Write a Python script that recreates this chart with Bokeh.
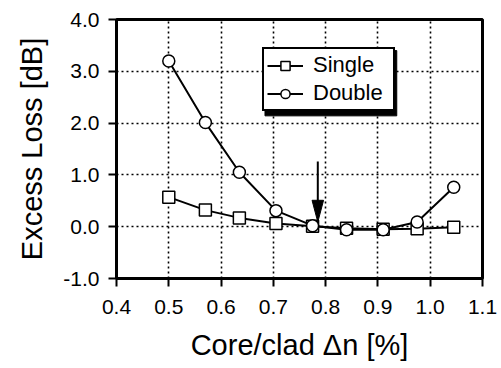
from bokeh.plotting import figure
from bokeh.models import (Legend, LegendItem, BoxAnnotation,
                          FixedTicker, NumeralTickFormatter, Range1d)
from bokeh.embed import file_html
from bokeh.resources import INLINE

NAN = float("nan")

# Data
dn = [0.50, 0.57, 0.635, 0.705, 0.775, 0.84, 0.91, 0.975, 1.045]
single = [0.57, 0.32, 0.17, 0.06, 0.01, -0.03, -0.05, -0.04, -0.01]
double = [3.20, 2.01, 1.05, 0.31, 0.02, -0.06, -0.06, 0.09, 0.76]
x_ticks = [0.4, 0.5, 0.6, 0.7, 0.8, 0.9, 1.0, 1.1]
y_ticks = [-1.0, 0.0, 1.0, 2.0, 3.0, 4.0]
arrow_x = 0.785
arrow_y_start = 1.26
arrow_y_end = 0.09

FONT = "Liberation Sans"

p = figure(width=501, height=368, output_backend="svg", toolbar_location=None,
           x_range=Range1d(0.4, 1.1), y_range=Range1d(-1.0, 4.0),
           min_border_left=116, min_border_right=19, min_border_top=19,
           min_border_bottom=90)
p.background_fill_color = "white"
p.border_fill_color = "white"
p.outline_line_color = "black"
p.outline_line_width = 3

p.xaxis.ticker = FixedTicker(ticks=x_ticks)
p.yaxis.ticker = FixedTicker(ticks=y_ticks)
p.xgrid.ticker = FixedTicker(ticks=x_ticks)
p.ygrid.ticker = FixedTicker(ticks=y_ticks)

for ax in (p.xaxis[0], p.yaxis[0]):
    ax.axis_line_width = 3
    ax.axis_line_color = "black"
    ax.major_tick_line_width = 2
    ax.major_tick_line_color = "black"
    ax.major_tick_out = 8
    ax.major_tick_in = 0
    ax.minor_tick_line_color = None
    ax.major_label_text_font = FONT
    ax.major_label_text_font_size = "21px"
    ax.major_label_text_color = "black"
    ax.axis_label_text_font = FONT
    ax.axis_label_text_font_size = "29px"
    ax.axis_label_text_font_style = "normal"
    ax.axis_label_text_color = "black"
    ax.formatter = NumeralTickFormatter(format="0.0")

p.xaxis.axis_label = "Core/clad Δn [%]"
p.yaxis.axis_label = "Excess Loss [dB]"
p.xaxis.major_label_standoff = 13
p.yaxis.major_label_standoff = 9
p.xaxis.axis_label_standoff = 12
p.yaxis.axis_label_standoff = 12

p.grid.grid_line_color = "black"
p.grid.grid_line_alpha = 1.0
p.grid.grid_line_dash = "2 3"
p.grid.grid_line_width = 1.6

# lines and markers
p.line(dn, single, line_color="black", line_width=2)
p.scatter(dn, single, marker="square", size=12, fill_color="white",
          line_color="black", line_width=1.5)
p.line(dn, double, line_color="black", line_width=2)
p.scatter(dn, double, marker="circle", size=12, fill_color="white",
          line_color="black", line_width=1.5)

# legend-only renderers (smaller markers in legend), not drawn in plot
lg_ls = p.line([NAN], [NAN], line_color="black", line_width=2)
lg_ms = p.scatter([NAN], [NAN], marker="square", size=9, fill_color="white",
                  line_color="black", line_width=1.5)
lg_ld = p.line([NAN], [NAN], line_color="black", line_width=2)
lg_md = p.scatter([NAN], [NAN], marker="circle", size=9, fill_color="white",
                  line_color="black", line_width=1.5)

# arrow: shaft + narrow head
head_len = 0.42   # data units (y)
head_half = 0.011  # data units (x)
p.line([arrow_x, arrow_x], [arrow_y_start, arrow_y_end + head_len * 0.5],
       line_color="black", line_width=2)
p.patch([arrow_x - head_half, arrow_x + head_half, arrow_x],
        [arrow_y_end + head_len, arrow_y_end + head_len, arrow_y_end],
        fill_color="black", line_color="black", line_width=1)

# legend shadow
p.add_layout(BoxAnnotation(left=0.684, right=0.936, top=3.40, bottom=2.14,
                           fill_color="black", fill_alpha=1.0,
                           line_color="black", line_alpha=1.0))

legend = Legend(items=[LegendItem(label="Single", renderers=[lg_ls, lg_ms]),
                       LegendItem(label="Double", renderers=[lg_ld, lg_md])],
                location=(146, 167))
legend.label_text_font = FONT
legend.label_text_font_size = "22px"
legend.label_text_color = "black"
legend.border_line_color = "black"
legend.border_line_alpha = 1.0
legend.border_line_width = 2
legend.background_fill_color = "white"
legend.background_fill_alpha = 1.0
legend.padding = 3
legend.spacing = 2
legend.margin = 0
legend.glyph_width = 36
legend.glyph_height = 23
legend.label_height = 23
legend.label_width = 77
legend.label_standoff = 10
p.add_layout(legend, "center")

open("out.html", "w").write(file_html(p, INLINE))
